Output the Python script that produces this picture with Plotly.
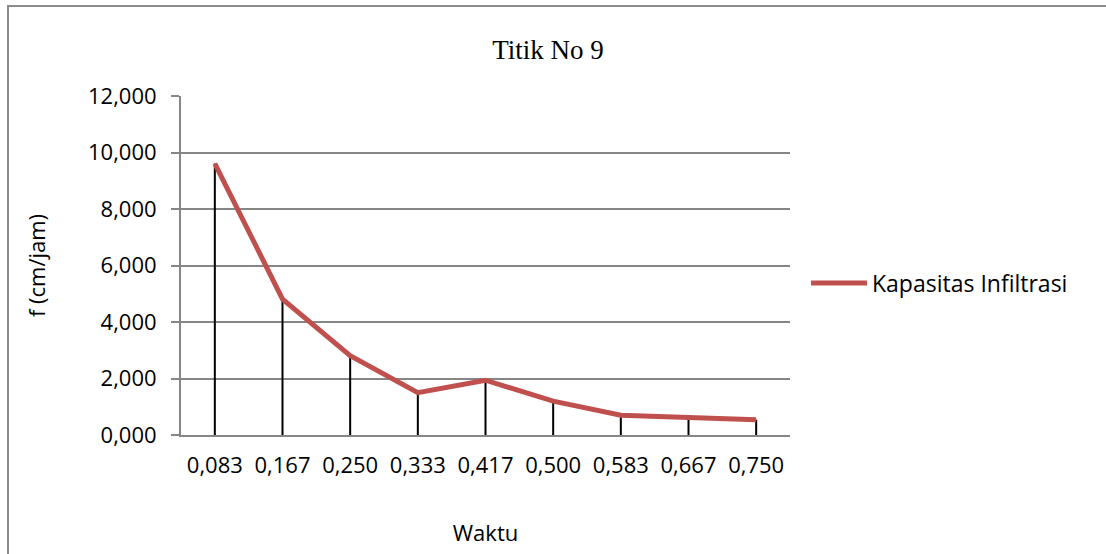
import plotly.graph_objects as go

waktu = ["0,083", "0,167", "0,250", "0,333", "0,417", "0,500", "0,583", "0,667", "0,750"]
kapasitas = [9.61, 4.81, 2.81, 1.50, 1.94, 1.20, 0.70, 0.62, 0.54]
y_ticks = [0, 2, 4, 6, 8, 10, 12]
y_tick_labels = ["0,000", "2,000", "4,000", "6,000", "8,000", "10,000", "12,000"]

series_name = "Kapasitas Infiltrasi"
title_text = "Titik No 9"

W, H = 1106, 554
L, R, T, B = 181, 316, 96, 119
pw, ph = W - L - R, H - T - B

tick_font = dict(family="Open Sans", size=22, color="#000000")

fig = go.Figure()

# drop lines (black vertical lines from each point to axis)
fig.add_trace(go.Scatter(
    x=waktu, y=kapasitas, mode="markers",
    marker=dict(size=1, opacity=0),
    error_y=dict(type="data", symmetric=False, array=[0] * len(kapasitas),
                 arrayminus=kapasitas, width=0, thickness=2, color="#000000"),
    showlegend=False, hoverinfo="skip",
))

fig.add_trace(go.Scatter(
    x=waktu, y=kapasitas, mode="lines", name=series_name,
    line=dict(color="#C0504D", width=5),
))

fig.update_layout(
    width=W, height=H,
    margin=dict(l=L, r=R, t=T, b=B),
    paper_bgcolor="#ffffff", plot_bgcolor="#ffffff",
    title=dict(text=title_text, x=548 / W, xanchor="center", y=1 - 50 / H, yanchor="middle",
               font=dict(family="Liberation Serif", size=27, color="#000000")),
    showlegend=True,
    legend=dict(x=(806 - L) / pw, y=(435 - 283) / ph, xanchor="left", yanchor="middle",
                font=dict(family="Open Sans", size=23, color="#000000"),
                itemwidth=56,
                bgcolor="rgba(0,0,0,0)"),
    xaxis=dict(
        type="category", range=[-0.5, len(waktu) - 0.5],
        showgrid=False, showline=True, linecolor="#868686", linewidth=2,
        ticks="", tickfont=tick_font, ticklabelstandoff=10,
        title=dict(text="Waktu", font=tick_font, standoff=47),
    ),
    yaxis=dict(
        range=[0, 12], tickvals=y_ticks, ticktext=y_tick_labels,
        showgrid=True, gridcolor="#868686", gridwidth=2,
        showline=True, linecolor="#868686", linewidth=2,
        ticks="outside", ticklen=8, tickcolor="#868686", tickwidth=2,
        tickfont=tick_font, ticklabelstandoff=10,
        zeroline=False,
        title=dict(text="f (cm/jam)", font=tick_font, standoff=36),
    ),
    shapes=[dict(type="rect", xref="paper", yref="paper",
                 x0=(8 - L) / pw, x1=(W + 10 - L) / pw,
                 y0=(435 - (H + 10)) / ph, y1=(435 - 6) / ph,
                 line=dict(color="#8C8C8C", width=2), fillcolor="rgba(0,0,0,0)", layer="below")],
)

fig.write_html("out.html", config={"displayModeBar": False},
               post_script="document.body.style.margin='0';")
